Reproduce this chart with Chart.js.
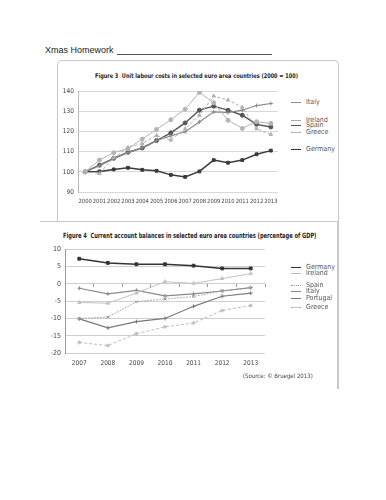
<!DOCTYPE html>
<html>
<head>
<meta charset="utf-8">
<script src="https://cdn.jsdelivr.net/npm/chart.js@4.4.0/dist/chart.umd.min.js"></script>
<style>
	body { margin: 0; width: 386px; height: 500px; background: #fff; position: relative; overflow: hidden; font-family: "Liberation Sans", Arial, sans-serif; }
	.abs { position: absolute; }
	#hw { left: 45px; top: 45px; font-size: 9px; color: #222; }
	#hwline { left: 117px; top: 54px; width: 155px; border-top: 1px solid #555; }
	#box1 { left: 57px; top: 60px; width: 280px; height: 160px; border: 1px solid #c8c8c8; border-bottom: none; border-radius: 5px 5px 0 0; }
	#box2 { left: 40px; top: 221px; width: 297px; height: 167px; border-top: 1px solid #c8c8c8; border-right: 2px solid #c8c8c8; }
	.title { font-family: "DejaVu Sans Condensed", "Liberation Sans", sans-serif; font-weight: bold; color: #1e1e1e; white-space: nowrap; transform-origin: 0 0; }
	#t1 { left: 95px; top: 72px; font-size: 6.4px; transform: scaleX(0.87); }
	#t2 { left: 63px; top: 231px; font-size: 7.2px; transform: scaleX(0.79); }
	.leg { font-family: "DejaVu Sans Condensed", "Liberation Sans", sans-serif; font-size: 7px; color: #555; white-space: nowrap; line-height: 7px; }
	.leg span { display: inline-block; width: 10px; margin-right: 5px; vertical-align: middle; border-top: 1px solid #555; }
	#src { left: 243px; top: 372px; font-size: 6px; color: #444; font-family: "DejaVu Sans Condensed", "Liberation Sans", sans-serif; }
	canvas { position: absolute; }
</style>
</head>
<body>
<div class="abs" id="hw">Xmas Homework</div>
<div class="abs" id="hwline"></div>
<div class="abs" id="box1"></div>
<div class="abs" id="box2"></div>

<div class="abs title" id="t1">Figure 3&nbsp; Unit labour costs in selected euro area countries (2000 = 100)</div>
<canvas id="ulc" width="245" height="131" style="left:40px;top:82px;width:245px;height:131px"></canvas>

<div class="abs leg" style="left:291px;top:99px"><span style="border-color:#888"></span>Italy</div>
<div class="abs leg" style="left:291px;top:117px"><span style="border-color:#aaa"></span>Ireland</div>
<div class="abs leg" style="left:291px;top:122px"><span style="border-color:#555;border-top-width:1.5px"></span>Spain</div>
<div class="abs leg" style="left:291px;top:129px"><span style="border-color:#aaa;border-top-style:dashed"></span>Greece</div>
<div class="abs leg" style="left:291px;top:146px"><span style="border-color:#333;border-top-width:1.5px"></span>Germany</div>

<div class="abs title" id="t2">Figure 4&nbsp; Current account balances in selected euro area countries (percentage of GDP)</div>
<canvas id="cab" width="240" height="138" style="left:30px;top:240px;width:240px;height:138px"></canvas>

<div class="abs leg" style="left:291px;top:264px"><span style="border-color:#333;border-top-width:1.5px"></span>Germany</div>
<div class="abs leg" style="left:291px;top:270px"><span style="border-color:#bbb"></span>Ireland</div>
<div class="abs leg" style="left:291px;top:282px"><span style="border-color:#999;border-top-style:dotted"></span>Spain</div>
<div class="abs leg" style="left:291px;top:288px"><span style="border-color:#888"></span>Italy</div>
<div class="abs leg" style="left:291px;top:295px"><span style="border-color:#777"></span>Portugal</div>
<div class="abs leg" style="left:291px;top:304px"><span style="border-color:#bbb;border-top-style:dashed"></span>Greece</div>

<div class="abs" id="src">(Source: © Bruegel 2013)</div>

<script>
// Figure 3: unit labour costs (2000 = 100)
const ulcYears = [ '2000', '2001', '2002', '2003', '2004', '2005', '2006', '2007', '2008', '2009', '2010', '2011', '2012', '2013' ];
const ulcItaly = [ 100, 103, 106.5, 109.5, 112, 115.5, 117.8, 119.8, 124.7, 129.7, 129.3, 130.5, 132.8, 133.8 ];
const ulcIreland = [ 100, 105.8, 109.5, 111.5, 116.2, 121, 125.8, 131, 139.3, 134.2, 125.5, 121.5, 124.8, 124 ];
const ulcSpain = [ 100, 103.3, 106.7, 109.7, 111.8, 115.5, 119.3, 124.2, 130.5, 132.5, 130.5, 128, 123.5, 122.2 ];
const ulcGreece = [ 100, 99.2, 107, 112, 114, 118, 115.7, 121.3, 128, 137.5, 135.5, 132, 121.3, 118.5 ];
const ulcGermany = [ 100, 100.2, 101.2, 102, 101, 100.5, 98.5, 97.5, 100.2, 105.8, 104.5, 105.8, 108.7, 110.5 ];

// Figure 4: current account balances (% of GDP)
const cabYears = [ '2007', '2008', '2009', '2010', '2011', '2012', '2013' ];
const cabGermany = [ 7.2, 6.0, 5.6, 5.6, 5.2, 4.4, 4.4 ];
const cabIreland = [ -5.4, -5.6, -2.7, 0.6, 0.1, 1.5, 2.9 ];
const cabSpain = [ -10.0, -9.6, -5.2, -4.4, -3.7, -2.0, -1.2 ];
const cabItaly = [ -1.3, -2.9, -1.9, -3.5, -2.9, -2.1, -1.1 ];
const cabPortugal = [ -10.1, -12.7, -10.9, -10.0, -6.5, -3.6, -2.7 ];
const cabGreece = [ -16.9, -17.8, -14.4, -12.4, -11.3, -7.7, -6.3 ];

const fontFamily = '"DejaVu Sans Condensed", "Liberation Sans", sans-serif';

function series( label, data, color, style, width, dash ) {
	return {
		label: label,
		data: data,
		borderColor: color,
		backgroundColor: color,
		borderWidth: width || 1.2,
		borderDash: dash || [],
		pointStyle: style,
		pointRadius: 2,
		pointBorderWidth: 1,
		pointBackgroundColor: color,
		tension: 0,
	};
}

// y axis width is fixed, x axis keeps its own height
function lineChart( id, labels, datasets, yOpts, xFontSize, yWidth, padTop, padRight, padBottom, extraScales ) {
	const scales = {
		x: {
			offset: true,
			grid: { display: false, drawTicks: false },
			border: { display: false },
			ticks: { color: '#444', font: { family: fontFamily, size: xFontSize }, padding: 6, maxRotation: 0, autoSkip: false },
		},
		y: Object.assign( {
			grid: { color: '#d8d8d8', drawTicks: false },
			border: { display: true, color: '#bbb' },
			afterFit: s => { s.width = yWidth; },
		}, yOpts ),
	};
	Object.assign( scales, extraScales || {} );
	return new Chart( document.getElementById( id ), {
		type: 'line',
		data: { labels: labels, datasets: datasets },
		options: {
			responsive: false,
			animation: false,
			layout: { padding: { top: padTop, right: padRight, left: 0, bottom: padBottom } },
			plugins: { legend: { display: false }, tooltip: { enabled: false } },
			scales: scales,
		},
	} );
}

lineChart( 'ulc', ulcYears, [
	series( 'Greece', ulcGreece, '#b0b0b0', 'triangle', 1, [ 3, 2 ] ),
	series( 'Ireland', ulcIreland, '#b4b4b4', 'circle', 1 ),
	series( 'Italy', ulcItaly, '#8a8a8a', 'cross', 1.2 ),
	series( 'Spain', ulcSpain, '#555', 'circle', 1.4 ),
	series( 'Germany', ulcGermany, '#3a3a3a', 'rect', 1.5 ),
], { min: 90, max: 140, ticks: { color: '#444', font: { family: fontFamily, size: 6.5 }, padding: 4, stepSize: 10 } },
5.8, 38, 9, 7, 2 );

lineChart( 'cab', cabYears, [
	series( 'Greece', cabGreece, '#bdbdbd', 'star', 1, [ 3, 2 ] ),
	series( 'Ireland', cabIreland, '#c4c4c4', 'triangle', 1 ),
	series( 'Spain', cabSpain, '#9a9a9a', 'crossRot', 1, [ 1.5, 1.5 ] ),
	series( 'Portugal', cabPortugal, '#7a7a7a', 'cross', 1.2 ),
	series( 'Italy', cabItaly, '#8a8a8a', 'cross', 1.2 ),
	series( 'Germany', cabGermany, '#333', 'rect', 1.5 ),
], { min: -20, max: 10, ticks: { color: '#444', font: { family: fontFamily, size: 7 }, padding: 4, stepSize: 5 },
	grid: { color: '#cfcfcf', drawTicks: false }, border: { display: true, color: '#999' } },
6.5, 35, 9, 5, 5, {
	zero: {
		axis: 'x',
		type: 'category',
		position: { y: 0 },
		offset: true,
		grid: { drawOnChartArea: false, tickLength: 3, color: '#999', offset: true },
		border: { display: false },
		ticks: { display: false },
	},
} );
</script>
</body>
</html>
